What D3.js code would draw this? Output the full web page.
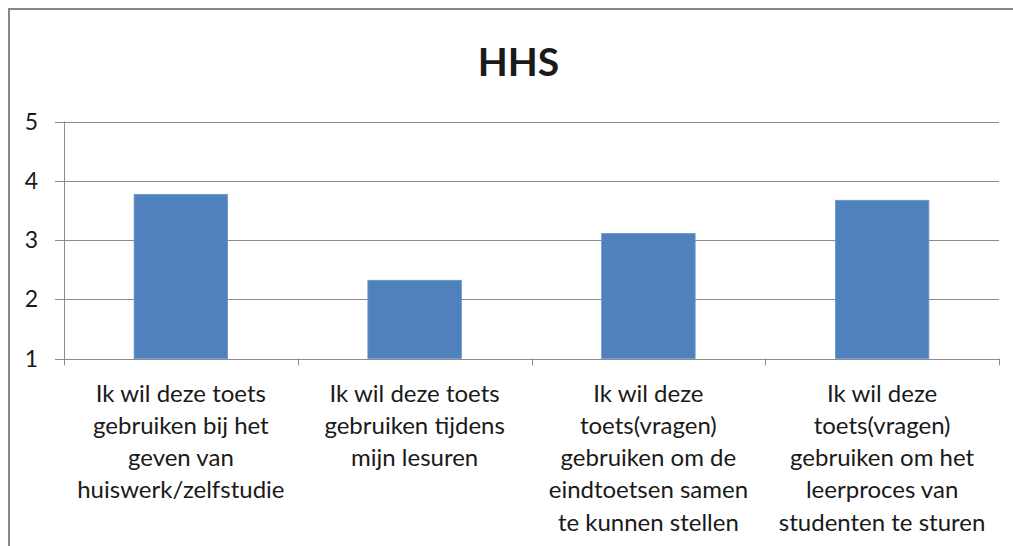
<!DOCTYPE html>
<html>
<head>
<meta charset="utf-8">
<script src="https://cdn.jsdelivr.net/npm/d3@7"></script>
<style>
  body { margin: 0; background: #fff; }
  text { font-family: Lato, "Open Sans", sans-serif; fill: #1a1a1a; }
</style>
</head>
<body>
<div id="chart"></div>
<script>
// data
const categories = [
    ["Ik wil deze toets", "gebruiken bij het", "geven van", "huiswerk/zelfstudie"],
    ["Ik wil deze toets", "gebruiken tijdens", "mijn lesuren"],
    ["Ik wil deze", "toets(vragen)", "gebruiken om de", "eindtoetsen samen", "te kunnen stellen"],
    ["Ik wil deze", "toets(vragen)", "gebruiken om het", "leerproces van", "studenten te sturen"]
];
const values = [3.77, 2.32, 3.11, 3.67];
const yTicks = [1, 2, 3, 4, 5];
const title = "HHS";

const WIDTH = 1013;
const HEIGHT = 546;

const svg = d3.select("#chart").append("svg")
    .attr("width", WIDTH)
    .attr("height", HEIGHT);

// rand om de grafiek
svg.append("rect")
    .attr("x", 9)
    .attr("y", 9)
    .attr("width", 1030)
    .attr("height", 560)
    .attr("fill", "none")
    .attr("stroke", "#868686")
    .attr("stroke-width", 2);

const plotLeft = 64, plotRight = 999, plotTop = 121.5, plotBottom = 358.5;

const x = d3.scaleBand()
    .domain(d3.range(categories.length))
    .range([plotLeft, plotRight])
    .padding(0);

const y = d3.scaleLinear()
    .domain([1, 5])
    .range([plotBottom, plotTop]);

// gridlijnen
svg.append("g")
    .selectAll("line")
    .data(yTicks)
    .join("line")
    .attr("x1", plotLeft - 9)
    .attr("x2", plotRight)
    .attr("y1", d => Math.round(y(d)) + 0.5)
    .attr("y2", d => Math.round(y(d)) + 0.5)
    .attr("stroke", "#8c8c8c")
    .attr("stroke-width", 1);

// y as labels
svg.append("g")
    .selectAll("text")
    .data(yTicks)
    .join("text")
    .attr("x", 38)
    .attr("y", d => y(d))
    .attr("dy", "0.35em")
    .attr("text-anchor", "end")
    .attr("font-size", 23)
    .text(d => d);

// balken
const bw = x.bandwidth() * 0.4;
svg.append("g")
    .selectAll("rect")
    .data(values)
    .join("rect")
    .attr("x", (d, i) => x(i) + (x.bandwidth() - bw) / 2)
    .attr("y", d => y(d))
    .attr("width", bw)
    .attr("height", d => y(1) - y(d))
    .attr("fill", "#4f81bd")
    .attr("stroke", "#6a95c9")
    .attr("stroke-width", 0.8);

// y as
svg.append("line")
    .attr("x1", plotLeft + 0.5)
    .attr("x2", plotLeft + 0.5)
    .attr("y1", plotTop)
    .attr("y2", plotBottom + 6)
    .attr("stroke", "#8c8c8c");

// x as tick marks
const xTickPos = d3.range(categories.length + 1).map(i => plotLeft + i * x.step());
svg.append("g")
    .selectAll("line")
    .data(xTickPos)
    .join("line")
    .attr("x1", d => Math.round(d) + 0.5)
    .attr("x2", d => Math.round(d) + 0.5)
    .attr("y1", plotBottom)
    .attr("y2", plotBottom + 7)
    .attr("stroke", "#8c8c8c");

// categorie labels
const labels = svg.append("g")
    .selectAll("text")
    .data(categories)
    .join("text")
    .attr("text-anchor", "middle")
    .attr("font-size", 24);

labels.selectAll("tspan")
    .data((d, i) => d.map(line => ({ line, i })))
    .join("tspan")
    .attr("x", d => x(d.i) + x.bandwidth() / 2)
    .attr("y", (d, j) => 401.5 + j * 32.3)
    .text(d => d.line);

// titel
svg.append("text")
    .attr("x", 518.5)
    .attr("y", 75.5)
    .attr("text-anchor", "middle")
    .attr("font-size", 39)
    .attr("font-weight", "bold")
    .text(title);
</script>
</body>
</html>
